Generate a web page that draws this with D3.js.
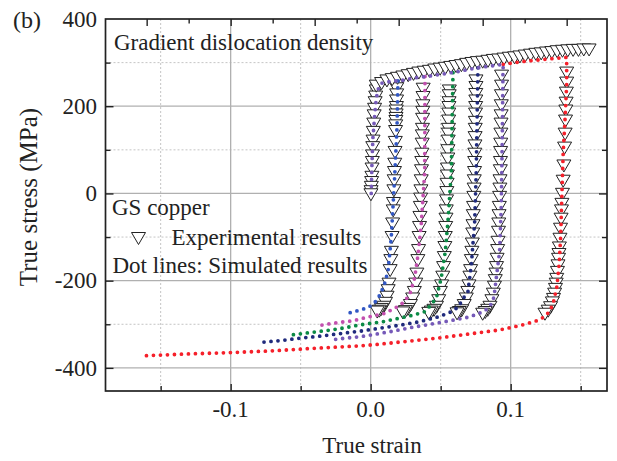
<!DOCTYPE html>
<html>
<head>
<meta charset="utf-8">
<script src="https://cdn.jsdelivr.net/npm/d3@7"></script>
<style>
  body { margin: 0; background: #fff; }
  svg text { font-family: "Liberation Serif", "Times New Roman", serif; fill: #222; }
</style>
</head>
<body>
<div id="chart"></div>
<script>
// axis ticks
var xTicks = [-0.1, 0.0, 0.1];
var xTickLabels = ["-0.1", "0.0", "0.1"];
var yTicks = [-400, -200, 0, 200, 400];

// experimental results [strain, stress] (MPa)
var expCol1 = [[0.0040,235],[0.0036,221],[0.0032,208],[0.0028,193],[0.0025,178],[0.0022,159],[0.0019,140],[0.0017,120],[0.0015,105],[0.0013,86],[0.0012,71],[0.0010,56],[0.0009,37],[0.0007,25],[0.0005,14],[0.0003,4],[0.0002,-3]];
var expTop = [[0.0040,246],[0.0078,252],[0.0116,258],[0.0154,261],[0.0192,264],[0.0230,267],[0.0268,270],[0.0306,273],[0.0344,276],[0.0382,278],[0.0420,280],[0.0458,283],[0.0496,285],[0.0534,287],[0.0572,289],[0.0610,291],[0.0648,293],[0.0686,296],[0.0724,298],[0.0762,300],[0.0800,301],[0.0838,303],[0.0876,305],[0.0914,306],[0.0952,308],[0.0990,310],[0.1028,311],[0.1066,313],[0.1104,315],[0.1142,317],[0.1180,319],[0.1218,320],[0.1256,322],[0.1294,323],[0.1332,325],[0.1370,326],[0.1408,327],[0.1446,328],[0.1484,328],[0.1522,329],[0.1560,329]];
var expCol2 = [[0.0186,240],[0.0186,226],[0.0185,212],[0.0184,197],[0.0183,189],[0.0182,180],[0.0181,172],[0.0180,165],[0.0179,155],[0.0178,142],[0.0176,117],[0.0174,94],[0.0172,67],[0.0170,48],[0.0168,29],[0.0166,6],[0.0163,-23],[0.0161,-40],[0.0157,-70],[0.0153,-101],[0.0148,-135],[0.0144,-154],[0.0139,-177],[0.0131,-208],[0.0125,-223],[0.0117,-238],[0.0106,-252],[0.0092,-261],[0.0077,-266],[0.0062,-270],[0.0047,-272]];
var expCol3 = [[0.0375,239],[0.0374,220],[0.0373,201],[0.0372,186],[0.0371,170],[0.0370,147],[0.0369,132],[0.0368,113],[0.0366,90],[0.0365,71],[0.0363,52],[0.0361,29],[0.0359,6],[0.0357,-13],[0.0355,-32],[0.0352,-55],[0.0349,-78],[0.0346,-101],[0.0342,-131],[0.0337,-154],[0.0330,-185],[0.0322,-208],[0.0312,-227],[0.0300,-242],[0.0284,-257],[0.0266,-266],[0.0248,-271],[0.0230,-274]];
var expCol4 = [[0.0562,235],[0.0561,224],[0.0560,208],[0.0559,197],[0.0558,182],[0.0557,166],[0.0556,147],[0.0555,136],[0.0554,120],[0.0552,98],[0.0551,79],[0.0549,56],[0.0548,40],[0.0546,21],[0.0544,2],[0.0542,-17],[0.0540,-40],[0.0538,-59],[0.0536,-78],[0.0533,-101],[0.0530,-124],[0.0526,-147],[0.0521,-170],[0.0515,-192],[0.0507,-212],[0.0498,-227],[0.0486,-246],[0.0470,-261],[0.0452,-268],[0.0433,-272],[0.0415,-275]];
var expCol5 = [[0.0752,258],[0.0752,243],[0.0751,227],[0.0751,212],[0.0750,197],[0.0749,182],[0.0748,163],[0.0747,147],[0.0746,128],[0.0745,109],[0.0744,90],[0.0743,71],[0.0742,48],[0.0740,29],[0.0739,10],[0.0737,-9],[0.0735,-32],[0.0733,-51],[0.0731,-74],[0.0729,-93],[0.0726,-116],[0.0723,-135],[0.0719,-154],[0.0714,-177],[0.0709,-192],[0.0702,-212],[0.0694,-227],[0.0683,-242],[0.0668,-257],[0.0650,-269],[0.0633,-273],[0.0617,-276]];
var expCol6 = [[0.0935,269],[0.0935,246],[0.0934,224],[0.0933,201],[0.0932,178],[0.0931,159],[0.0930,136],[0.0929,113],[0.0928,94],[0.0927,71],[0.0926,52],[0.0924,29],[0.0923,10],[0.0921,-9],[0.0919,-32],[0.0917,-51],[0.0915,-70],[0.0913,-89],[0.0910,-112],[0.0907,-131],[0.0903,-151],[0.0899,-170],[0.0895,-185],[0.0890,-200],[0.0884,-215],[0.0876,-231],[0.0866,-246],[0.0852,-261],[0.0836,-268],[0.0818,-273],[0.0800,-277]];
var expCol7 = [[0.1400,276],[0.1400,253],[0.1398,230],[0.1396,207],[0.1394,189],[0.1392,166],[0.1389,136],[0.1385,104],[0.1380,63],[0.1375,28],[0.1370,-2],[0.1366,-25],[0.1363,-40],[0.1360,-59],[0.1356,-82],[0.1352,-105],[0.1348,-125],[0.1345,-140],[0.1342,-151],[0.1338,-166],[0.1334,-181],[0.1329,-197],[0.1325,-208],[0.1320,-220],[0.1314,-231],[0.1306,-243],[0.1298,-251],[0.1285,-262],[0.1268,-270],[0.1245,-277]];

// simulated results [strain, stress] (MPa)
var simRed = [[0.0947,296],[0.1007,299],[0.1102,303],[0.1197,306],[0.1293,309],[0.1400,312],[0.1400,250],[0.1388,168],[0.1375,92],[0.1364,-23],[0.1357,-99],[0.1347,-160],[0.1330,-214],[0.1305,-250],[0.1280,-270],[0.1235,-284],[0.1186,-292],[0.1090,-301],[0.0995,-308],[0.0920,-313],[0.0780,-319],[0.0638,-325],[0.0495,-331],[0.0352,-336],[0.0054,-346],[-0.0100,-350],[-0.0398,-355],[-0.0707,-361],[-0.1005,-365],[-0.1303,-368],[-0.1605,-372]];
var simNavy = [[0.0766,288],[0.0754,50],[0.0743,-64],[0.0719,-164],[0.0695,-225],[0.0661,-241],[0.0626,-260],[0.0579,-271],[0.0483,-283],[0.0352,-294],[0.0209,-302],[0.0066,-309],[-0.0057,-315],[-0.0207,-321],[-0.0357,-327],[-0.0505,-332],[-0.0660,-338],[-0.0807,-342]];
var simGreen = [[0.0588,277],[0.0576,50],[0.0552,-64],[0.0533,-133],[0.0504,-194],[0.0469,-240],[0.0421,-259],[0.0388,-271],[0.0304,-279],[0.0233,-284],[0.0161,-289],[0.0090,-294],[0.0019,-297],[-0.0089,-302],[-0.0184,-308],[-0.0279,-313],[-0.0381,-317],[-0.0481,-321],[-0.0581,-325]];
var simPink = [[0.0388,268],[0.0386,50],[0.0361,-72],[0.0338,-141],[0.0314,-194],[0.0279,-232],[0.0231,-251],[0.0183,-261],[0.0102,-275],[0.0043,-279],[-0.0029,-284],[-0.0124,-292],[-0.0231,-296],[-0.0374,-303]];
var simBlue = [[0.0195,258],[0.0188,150],[0.0171,36],[0.0147,-102],[0.0124,-178],[0.0095,-212],[0.0054,-240],[0.0019,-254],[-0.0029,-263],[-0.0076,-267],[-0.0124,-272],[-0.0171,-275]];
var simPurple = [[0.0004,0],[0.0009,66],[0.0016,127],[0.0029,180],[0.0040,218],[0.0057,243],[0.0080,253],[0.0145,257],[0.0220,259],[0.0316,265],[0.0416,269],[0.0519,274],[0.0616,279],[0.0709,285],[0.0804,290],[0.0900,294],[0.0947,296],[0.0945,280],[0.0940,127],[0.0933,-26],[0.0921,-133],[0.0897,-194],[0.0881,-237],[0.0864,-252],[0.0840,-263],[0.0804,-271],[0.0709,-283],[0.0566,-292],[0.0424,-300],[0.0281,-308],[0.0138,-317],[-0.0005,-325],[-0.0089,-329],[-0.0184,-332],[-0.0291,-336]];

function drawChart(){
    var width = 617, height = 461;
    var pL = 105.5, pR = 607, pT = 19, pB = 391;

    var svg = d3.select("#chart").append("svg")
        .attr("width", width)
        .attr("height", height);

    var x = d3.scaleLinear().domain([-0.1894, 0.1688]).range([pL, pR]);
    var y = d3.scaleLinear().domain([-453, 400]).range([pB, pT]);

    // grid
    var grid = svg.append("g");
    [-0.15, -0.05, 0.05, 0.15].forEach(function(v){
        grid.append("line").attr("x1", x(v)).attr("x2", x(v)).attr("y1", pT).attr("y2", pB)
            .attr("stroke", "#bdbdbd").attr("stroke-width", 0.9).attr("stroke-dasharray", "2,2");
    });
    [-300, -100, 100, 300].forEach(function(v){
        grid.append("line").attr("x1", pL).attr("x2", pR).attr("y1", y(v)).attr("y2", y(v))
            .attr("stroke", "#bdbdbd").attr("stroke-width", 0.9).attr("stroke-dasharray", "2,2");
    });
    xTicks.forEach(function(v){
        grid.append("line").attr("x1", x(v)).attr("x2", x(v)).attr("y1", pT).attr("y2", pB)
            .attr("stroke", "#b0b0b0").attr("stroke-width", 1.3);
    });
    [-400, -200, 0, 200].forEach(function(v){
        grid.append("line").attr("x1", pL).attr("x2", pR).attr("y1", y(v)).attr("y2", y(v))
            .attr("stroke", "#b0b0b0").attr("stroke-width", 1.3);
    });

    // axes (ticks pointing inward)
    var gb = svg.append("g").attr("transform", "translate(0," + pB + ")")
        .call(d3.axisTop(x).tickValues([-0.15, -0.1, -0.05, 0, 0.05, 0.1, 0.15]).tickFormat("").tickSizeOuter(0));
    gb.selectAll(".tick line").attr("y2", function(d){
        return xTicks.some(function(t){ return Math.abs(t-d) < 1e-9; }) ? -7 : -5;
    });

    var gt = svg.append("g").attr("transform", "translate(0," + pT + ")")
        .call(d3.axisBottom(x).tickValues([-0.16, -0.13, -0.10, -0.07, -0.04, -0.01, 0.02, 0.05, 0.08, 0.11, 0.14]).tickFormat("").tickSizeOuter(0));
    gt.selectAll(".tick line").attr("y2", function(d, i){ return i % 2 == 0 ? 7 : 4.5; });

    var gl = svg.append("g").attr("transform", "translate(" + pL + ",0)")
        .call(d3.axisRight(y).tickValues([-400,-300,-200,-100,0,100,200,300]).tickFormat("").tickSizeOuter(0));
    gl.selectAll(".tick line").attr("x2", function(d){ return d % 200 == 0 ? 8 : 5; });

    var gr = svg.append("g").attr("transform", "translate(" + pR + ",0)")
        .call(d3.axisLeft(y).tickValues([-400,-300,-200,-100,0,100,200,300]).tickFormat("").tickSizeOuter(0));
    gr.selectAll(".tick line").attr("x2", function(d){ return d % 200 == 0 ? -8 : -5; });

    svg.selectAll(".domain").remove();
    svg.selectAll(".tick line").attr("stroke", "#222").attr("stroke-width", 1.4);

    svg.append("rect").attr("x", pL).attr("y", pT).attr("width", pR-pL).attr("height", pB-pT)
        .attr("fill", "none").attr("stroke", "#222").attr("stroke-width", 1.7);

    // tick labels
    svg.selectAll(".ylab").data(yTicks).enter().append("text")
        .attr("x", 97).attr("y", function(d){ return y(d); })
        .attr("dy", "0.34em").attr("text-anchor", "end").attr("font-size", 23)
        .text(function(d){ return d; });
    svg.selectAll(".xlab").data(xTicks).enter().append("text")
        .attr("x", function(d){ return x(d); }).attr("y", 417)
        .attr("text-anchor", "middle").attr("font-size", 23)
        .text(function(d, i){ return xTickLabels[i]; });

    // axis titles
    svg.append("text").attr("x", 372).attr("y", 453).attr("text-anchor", "middle")
        .attr("font-size", 23).text("True strain");
    svg.append("text").attr("transform", "translate(37,197) rotate(-90)").attr("text-anchor", "middle")
        .attr("font-size", 25).text("True stress (MPa)");
    svg.append("text").attr("x", 13).attr("y", 28).attr("font-size", 24).text("(b)");

    // experimental triangles
    var tri = "M-7,-6L7,-6L0,6Z";
    var expSets = [expCol1, expCol2, expCol3, expCol4, expCol5, expCol6, expCol7, expTop];
    expSets.forEach(function(set){
        svg.append("g").selectAll("path").data(set).enter().append("path")
            .attr("d", tri)
            .attr("transform", function(d){ return "translate(" + x(d[0]) + "," + y(d[1]) + ")"; })
            .attr("fill", "#fff").attr("stroke", "#222").attr("stroke-width", 1);
    });

    // simulated dot lines
    var line = d3.line().x(function(d){ return x(d[0]); }).y(function(d){ return y(d[1]); });
    var sims = [
        {data: simRed, color: "#f5202a"},
        {data: simNavy, color: "#1f2a7c"},
        {data: simGreen, color: "#0b8a45"},
        {data: simPink, color: "#c24fae"},
        {data: simBlue, color: "#3157c4"},
        {data: simPurple, color: "#7559b8"}
    ];
    sims.forEach(function(s){
        svg.append("path").attr("d", line(s.data))
            .attr("fill", "none").attr("stroke", s.color).attr("stroke-width", 3.8)
            .attr("stroke-linecap", "round").attr("stroke-dasharray", "0,7");
    });

    // legend / notes
    svg.append("text").attr("x", 114).attr("y", 50).attr("font-size", 23).text("Gradient dislocation density");
    svg.append("text").attr("x", 112).attr("y", 215).attr("font-size", 23).text("GS copper");
    svg.append("path").attr("d", tri).attr("transform", "translate(138.5,238.5)")
        .attr("fill", "#fff").attr("stroke", "#222").attr("stroke-width", 1);
    svg.append("text").attr("x", 171.5).attr("y", 245).attr("font-size", 23).text("Experimental results");
    svg.append("text").attr("x", 112.5).attr("y", 273).attr("font-size", 23).text("Dot lines: Simulated results");
}
drawChart();
</script>
</body>
</html>
